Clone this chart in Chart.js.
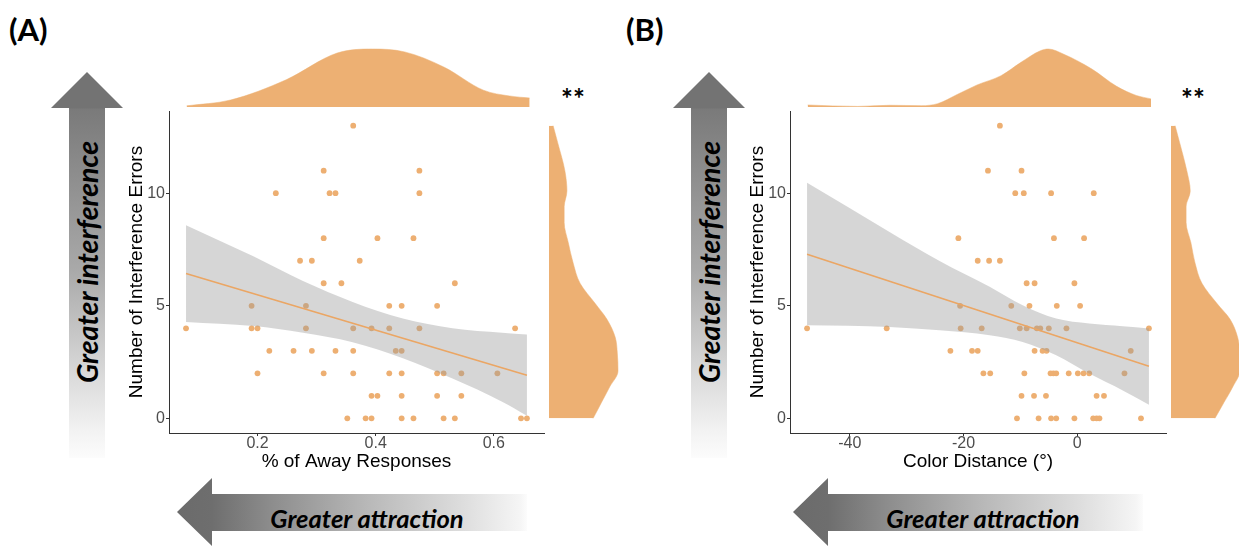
<!DOCTYPE html>
<html><head><meta charset="utf-8">
<script src="https://cdn.jsdelivr.net/npm/chart.js@4/dist/chart.umd.min.js"></script>
<style>
html,body{margin:0;padding:0;background:#fff;}
body{width:1239px;height:546px;overflow:hidden;position:relative;font-family:'Liberation Sans',Arial,sans-serif;}
canvas{position:absolute;}
.tag{position:absolute;font-family:Lato,'Open Sans',sans-serif;font-weight:700;color:#000;white-space:nowrap;}
.varrow{position:absolute;width:72px;height:386px;top:72px;
 clip-path:polygon(36px 0,72px 36px,54px 36px,54px 386px,18px 386px,18px 36px,0 36px);
 background:linear-gradient(to bottom,#737373 0px,#737373 36px,#7a7a7a 37px,#a9a9a9 198px,#dcdcdc 308px,#f2f2f2 358px,#fcfcfc 386px);}
.harrow{position:absolute;width:350px;height:68px;top:478px;
 clip-path:polygon(0 34px,35px 0,35px 16px,350px 16px,350px 53px,35px 53px,35px 68px);
 background:linear-gradient(to right,#6b6b6b 0px,#6e6e6e 35px,#8c8c8c 93px,#b8b8b8 190px,#dedede 288px,#f5f5f5 343px,#fcfcfc 350px);}
.vtext{position:absolute;width:300px;height:34px;line-height:34px;text-align:center;transform:rotate(-90deg);
 font-family:Lato,'Open Sans',sans-serif;font-weight:700;font-style:italic;font-size:28.5px;color:#000;white-space:nowrap;}
.htext{position:absolute;width:300px;height:30px;line-height:30px;text-align:center;
 font-family:Lato,'Open Sans',sans-serif;font-weight:700;font-style:italic;font-size:25.5px;color:#000;white-space:nowrap;}
</style></head>
<body>
<div class="tag" style="left:9px;top:10px;font-size:31px;line-height:38px;">(A)</div>
<div class="tag" style="left:626px;top:10px;font-size:31px;line-height:38px;">(B)</div>
<div class="tag" style="left:561px;top:84px;font-size:28px;line-height:28px;">**</div>
<div class="tag" style="left:1181px;top:84px;font-size:28px;line-height:28px;">**</div>

<div class="varrow" style="left:51px;"></div>
<div class="varrow" style="left:673px;"></div>
<div class="vtext" style="left:-63px;top:245px;">Greater interference</div>
<div class="vtext" style="left:559px;top:245px;">Greater interference</div>

<div class="harrow" style="left:177px;"></div>
<div class="harrow" style="left:793px;"></div>
<div class="htext" style="left:217px;top:503px;">Greater attraction</div>
<div class="htext" style="left:833px;top:503px;">Greater attraction</div>

<canvas id="scA" width="448" height="380" style="left:100px;top:100px;"></canvas>
<canvas id="topA" width="376" height="60" style="left:169px;top:47px;"></canvas>
<canvas id="rightA" width="72" height="322" style="left:549px;top:111px;"></canvas>

<canvas id="scB" width="449" height="380" style="left:721px;top:100px;"></canvas>
<canvas id="topB" width="377" height="60" style="left:790px;top:47px;"></canvas>
<canvas id="rightB" width="69" height="322" style="left:1171px;top:111px;"></canvas>

<script>
// ---------- Panel A data ----------
const awayA = [0.362,
 0.312,0.474,
 0.231,0.322,0.332,0.474,
 0.312,0.403,0.464,
 0.272,0.292,0.373,
 0.312,0.342,0.534,
 0.190,0.282,0.423,0.444,0.504,
 0.079,0.190,0.200,0.282,0.362,0.393,0.423,0.474,0.636,
 0.220,0.261,0.292,0.332,0.362,0.434,0.444,
 0.200,0.312,0.362,0.423,0.444,0.504,0.515,0.545,0.606,
 0.393,0.403,0.444,0.504,0.545,
 0.352,0.383,0.393,0.444,0.464,0.515,0.534,0.646,0.656];
const errorsA = [13,
 11,11,
 10,10,10,10,
 8,8,8,
 7,7,7,
 6,6,6,
 5,5,5,5,5,
 4,4,4,4,4,4,4,4,4,
 3,3,3,3,3,3,3,
 2,2,2,2,2,2,2,2,2,
 1,1,1,1,1,
 0,0,0,0,0,0,0,0,0];
const fitXA = [0.079, 0.656];
const fitYA = [6.43, 1.91];
const bandXA = [0.079, 0.193, 0.277, 0.361, 0.446, 0.530, 0.614, 0.656];
const bandUpA = [8.58, 7.20, 6.10, 5.17, 4.43, 4.00, 3.80, 3.72];
const bandLoA = [4.28, 4.10, 3.80, 3.38, 2.67, 1.77, 0.74, 0.12];
const densXA = [0.080, 0.154, 0.248, 0.334, 0.394, 0.448, 0.514, 0.581, 0.625, 0.659];
const densYA = [0.02, 0.12, 0.47, 0.93, 1.00, 0.95, 0.69, 0.29, 0.19, 0.155];
const densErrLevels = [13.0, 12.2, 11.0, 10.1, 9.4, 8.7, 7.8, 6.9, 6.0, 5.1, 4.4, 3.6, 2.9, 2.1, 1.4, 0.7, 0.0];
const densErrA = [0.06, 0.13, 0.23, 0.26, 0.22, 0.22, 0.28, 0.35, 0.45, 0.67, 0.84, 0.96, 0.99, 1.00, 0.88, 0.76, 0.64];
const xTicksA = [0.2, 0.4, 0.6];
const xTickLabelsA = ['0.2', '0.4', '0.6'];

// ---------- Panel B data ----------
const distB = [-13.6,
 -15.7,-9.8,
 -10.9,-9.4,-4.6,2.9,
 -20.9,-4.1,1.2,
 -17.5,-15.5,-13.6,
 -8.9,-7.5,-0.5,
 -20.6,-11.6,-8.4,-3.6,0.5,
 -47.5,-33.5,-20.5,-16.8,-10.1,-8.9,-7.1,-6.5,-5.0,-1.9,12.6,
 -22.3,-18.5,-17.5,-7.5,-6.1,-5.4,9.4,
 -16.5,-15.3,-9.3,-4.7,-4.2,-3.7,-1.5,0.1,1.1,2.1,8.3,
 -9.8,-7.6,-5.5,3.4,4.7,
 -10.6,-6.8,-4.6,-3.7,-0.5,2.8,3.4,3.9,11.2];
const errorsB = [13,
 11,11,
 10,10,10,10,
 8,8,8,
 7,7,7,
 6,6,6,
 5,5,5,5,5,
 4,4,4,4,4,4,4,4,4,4,4,
 3,3,3,3,3,3,3,
 2,2,2,2,2,2,2,2,2,2,2,
 1,1,1,1,1,
 0,0,0,0,0,0,0,0,0];
const fitXB = [-47.5, 12.6];
const fitYB = [7.29, 2.31];
const bandXB = [-47.5, -33.0, -24.2, -15.4, -9.6, -3.7, 2.1, 8.0, 12.6];
const bandUpB = [10.46, 8.28, 6.99, 5.84, 5.02, 4.43, 4.21, 4.09, 3.99];
const bandLoB = [4.13, 4.06, 3.91, 3.69, 3.39, 2.80, 1.99, 1.24, 0.61];
const densXB = [-47.4, -38.6, -33.0, -27.4, -24.6, -21.2, -17.7, -13.5, -10.0, -6.6, -5.2, -2.5, 2.5, 6.7, 10.2, 12.8];
const densYB = [0.035, 0.01, 0.03, 0.023, 0.058, 0.215, 0.38, 0.54, 0.77, 0.97, 1.00, 0.91, 0.65, 0.36, 0.20, 0.14];
const densErrB = [0.06, 0.13, 0.23, 0.28, 0.22, 0.22, 0.29, 0.35, 0.45, 0.67, 0.86, 0.97, 1.00, 1.00, 0.90, 0.77, 0.64];
const xTicksB = [-40, -20, 0];
const xTickLabelsB = ['-40', '-20', '0'];

const yTicks = [0, 5, 10];
const yTickLabels = ['0', '5', '10'];

// ---------- styling ----------
const ORANGE = '#EDAF72';
const DENS = '#EDB073';
const LINE = '#EBA664';
const BAND = 'rgba(153,153,153,0.4)';
const AXIS = '#333333';
const TICKTXT = '#4D4D4D';

Chart.defaults.font.family = "'Liberation Sans', Arial, sans-serif";
Chart.defaults.animation = false;

function pts(xs, ys) { return xs.map((x, i) => ({x: x, y: ys[i]})); }

function scatterPanel(id, xs, ys, fx, fy, bx, bu, bl, xr, yr, xt, xtl, xtitle) {
  new Chart(document.getElementById(id), {
    type: 'scatter',
    data: {datasets: [
      {type: 'line', data: pts(bx, bu), borderColor: 'rgba(0,0,0,0)', borderWidth: 0, pointRadius: 0,
       fill: '+1', backgroundColor: BAND, cubicInterpolationMode: 'monotone', order: 2},
      {type: 'line', data: pts(bx, bl), borderColor: 'rgba(0,0,0,0)', borderWidth: 0, pointRadius: 0,
       fill: false, cubicInterpolationMode: 'monotone', order: 2},
      {type: 'line', data: pts(fx, fy), borderColor: LINE, borderWidth: 1.6, pointRadius: 0, fill: false, order: 1},
      {type: 'scatter', data: pts(xs, ys), pointRadius: 2.9, pointBackgroundColor: ORANGE, backgroundColor: ORANGE,
       pointBorderWidth: 0, borderWidth: 0, order: 3}
    ]},
    options: {
      responsive: false, animation: false, devicePixelRatio: 1,
      layout: {padding: {top: 11, right: 3, left: 0, bottom: 0}},
      plugins: {legend: {display: false}, tooltip: {enabled: false}},
      scales: {
        x: {type: 'linear', min: xr[0], max: xr[1],
          afterBuildTicks: s => { s.ticks = xt.map(v => ({value: v})); },
          afterFit: s => { s.height = 47; },
          ticks: {callback: (v, i) => xtl[i], color: TICKTXT, font: {size: 16, lineHeight: 1}, padding: 0,
                  maxRotation: 0, autoSkip: false},
          grid: {drawOnChartArea: false, drawTicks: true, tickLength: 3, color: AXIS, tickColor: AXIS},
          border: {display: true, color: AXIS, width: 1},
          title: {display: true, text: xtitle, color: '#000', font: {size: 19}, padding: {top: 0, bottom: 7}}
        },
        y: {type: 'linear', min: yr[0], max: yr[1],
          afterBuildTicks: s => { s.ticks = yTicks.map(v => ({value: v})); },
          afterFit: s => { s.width = 69; },
          ticks: {callback: (v, i) => yTickLabels[i], color: TICKTXT, font: {size: 16}, padding: 1, autoSkip: false},
          grid: {drawOnChartArea: false, drawTicks: true, tickLength: 3, color: AXIS, tickColor: AXIS},
          border: {display: true, color: AXIS, width: 1},
          title: {display: true, text: 'Number of Interference Errors', color: '#000', font: {size: 19}, padding: {top: 25, bottom: 0}}
        }
      }
    }
  });
}

function topDensity(id, xs, ds, xr) {
  new Chart(document.getElementById(id), {
    type: 'line',
    data: {datasets: [{data: pts(xs, ds), fill: 'origin', backgroundColor: DENS, borderColor: DENS, borderWidth: 0.5,
      pointRadius: 0, cubicInterpolationMode: 'monotone'}]},
    options: {
      responsive: false, animation: false, devicePixelRatio: 1,
      layout: {padding: 0},
      plugins: {legend: {display: false}, tooltip: {enabled: false}},
      scales: {
        x: {type: 'linear', display: false, min: xr[0], max: xr[1]},
        y: {type: 'linear', display: false, min: 0, max: 60 / 58}
      }
    }
  });
}

function rightDensity(id, levels, ds, yr, w) {
  new Chart(document.getElementById(id), {
    type: 'line',
    data: {datasets: [{data: levels.map((y, i) => ({x: ds[i], y: y})), fill: 'origin', backgroundColor: DENS,
      borderColor: DENS, borderWidth: 0.5, pointRadius: 0, cubicInterpolationMode: 'monotone'}]},
    options: {
      indexAxis: 'y',
      responsive: false, animation: false, devicePixelRatio: 1,
      layout: {padding: 0},
      plugins: {legend: {display: false}, tooltip: {enabled: false}},
      scales: {
        x: {type: 'linear', display: false, min: 0, max: w},
        y: {type: 'linear', display: false, min: yr[0], max: yr[1]}
      }
    }
  });
}

const xRangeA = [0.0502, 0.6849];
const xRangeB = [-50.5, 15.6];
const yRange = [-0.65, 13.65];

scatterPanel('scA', awayA, errorsA, fitXA, fitYA, bandXA, bandUpA, bandLoA, xRangeA, yRange, xTicksA, xTickLabelsA, '% of Away Responses');
scatterPanel('scB', distB, errorsB, fitXB, fitYB, bandXB, bandUpB, bandLoB, xRangeB, yRange, xTicksB, xTickLabelsB, 'Color Distance (°)');
topDensity('topA', densXA, densYA, xRangeA);
topDensity('topB', densXB, densYB, xRangeB);
rightDensity('rightA', densErrLevels, densErrA, yRange, 72 / 69);
rightDensity('rightB', densErrLevels, densErrB, yRange, 69 / 68.7);
</script>
</body></html>
